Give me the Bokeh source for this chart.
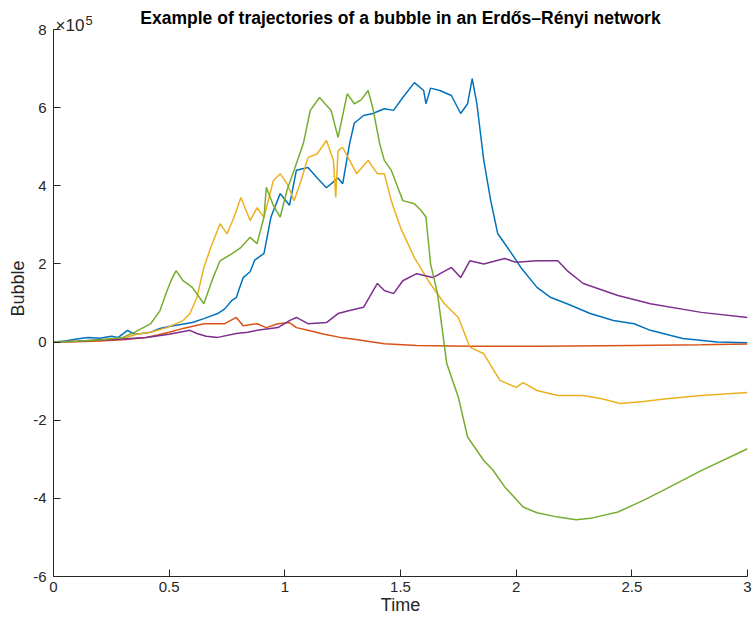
import numpy as np
from bokeh.plotting import figure
from bokeh.models import FixedTicker, Label
from bokeh.embed import file_html
from bokeh.resources import INLINE

# ---- data (bubble values in units of 1e5) ----
x_ticks = [0, 0.5, 1, 1.5, 2, 2.5, 3]
x_tick_labels = ["0", "0.5", "1", "1.5", "2", "2.5", "3"]
y_ticks = [-6, -4, -2, 0, 2, 4, 6, 8]
y_tick_labels = ["-6", "-4", "-2", "0", "2", "4", "6", "8"]

t_blue = [0, 0.05, 0.1, 0.15, 0.2, 0.25, 0.28, 0.32, 0.35, 0.38, 0.42, 0.46, 0.5, 0.55, 0.6, 0.65,
          0.71, 0.74, 0.77, 0.79, 0.82, 0.85, 0.87, 0.91, 0.94, 0.98, 1.02, 1.05, 1.1, 1.14, 1.18,
          1.21, 1.23, 1.25, 1.28, 1.3, 1.34, 1.38, 1.43, 1.47, 1.51, 1.56, 1.6, 1.61, 1.63, 1.67,
          1.72, 1.76, 1.79, 1.81, 1.83, 1.86, 1.89, 1.92, 1.98, 2.02, 2.09, 2.15, 2.22, 2.32, 2.42,
          2.51, 2.58, 2.72, 2.87, 3.0]
v_blue = [0, 0.03, 0.08, 0.12, 0.1, 0.15, 0.12, 0.3, 0.2, 0.22, 0.25, 0.35, 0.4, 0.45, 0.5, 0.6,
          0.73, 0.85, 1.06, 1.14, 1.65, 1.8, 2.1, 2.27, 3.2, 3.8, 3.5, 4.4, 4.47, 4.2, 3.95,
          4.1, 4.2, 4.05, 5.08, 5.6, 5.8, 5.85, 5.97, 5.93, 6.26, 6.64, 6.44, 6.1, 6.5, 6.44,
          6.31, 5.85, 6.1, 6.74, 6.1, 4.65, 3.62, 2.78, 2.27, 1.91, 1.4, 1.14, 0.98, 0.73, 0.55,
          0.47, 0.3, 0.09, 0.0, -0.02]

t_orange = [0, 0.1, 0.2, 0.3, 0.4, 0.45, 0.5, 0.56, 0.65, 0.74, 0.79, 0.82, 0.88, 0.92, 0.97,
            1.02, 1.05, 1.1, 1.17, 1.24, 1.3, 1.43, 1.57, 1.8, 2.1, 2.5, 2.8, 3.0]
v_orange = [0, 0.01, 0.03, 0.06, 0.12, 0.18, 0.25, 0.35, 0.47, 0.47, 0.63, 0.42, 0.47, 0.37, 0.47,
            0.5, 0.37, 0.3, 0.2, 0.12, 0.07, -0.04, -0.09, -0.11, -0.11, -0.09, -0.07, -0.05]

t_yellow = [0, 0.1, 0.2, 0.3, 0.36, 0.42, 0.49, 0.56, 0.59, 0.62, 0.65, 0.68, 0.72, 0.75, 0.78,
            0.81, 0.85, 0.88, 0.91, 0.95, 0.98, 1.01, 1.04, 1.07, 1.1, 1.14, 1.18, 1.21, 1.22,
            1.23, 1.25, 1.28, 1.31, 1.36, 1.4, 1.43, 1.46, 1.5, 1.56, 1.62, 1.69, 1.75, 1.8,
            1.86, 1.93, 2.0, 2.03, 2.09, 2.18, 2.29, 2.37, 2.45, 2.55, 2.65, 2.8, 3.0]
v_yellow = [0, 0.02, 0.05, 0.1, 0.2, 0.25, 0.37, 0.55, 0.73, 1.14, 1.91, 2.42, 3.03, 2.77, 3.19,
            3.7, 3.11, 3.44, 3.19, 4.13, 4.31, 4.05, 3.62, 4.13, 4.72, 4.82, 5.16, 4.65, 3.7,
            4.9, 4.98, 4.65, 4.31, 4.65, 4.31, 4.31, 3.62, 2.93, 2.16, 1.57, 0.98, 0.63, -0.13,
            -0.3, -0.98, -1.16, -1.04, -1.24, -1.37, -1.37, -1.45, -1.57, -1.52, -1.45, -1.37, -1.29]

t_purple = [0, 0.1, 0.2, 0.3, 0.4, 0.5, 0.59, 0.62, 0.66, 0.71, 0.79, 0.84, 0.88, 0.97, 1.02,
            1.05, 1.1, 1.18, 1.23, 1.28, 1.34, 1.4, 1.43, 1.47, 1.51, 1.57, 1.64, 1.72, 1.76,
            1.8, 1.86, 1.95, 2.0, 2.09, 2.18, 2.22, 2.29, 2.44, 2.58, 2.8, 3.0]
v_purple = [0, 0.02, 0.05, 0.08, 0.12, 0.2, 0.3, 0.22, 0.15, 0.12, 0.22, 0.25, 0.3, 0.37, 0.55,
            0.63, 0.47, 0.5, 0.73, 0.81, 0.89, 1.5, 1.32, 1.24, 1.57, 1.75, 1.65, 1.91, 1.65,
            2.08, 2.0, 2.14, 2.04, 2.08, 2.08, 1.83, 1.5, 1.19, 0.98, 0.76, 0.63]

t_green = [0, 0.1, 0.2, 0.3, 0.35, 0.42, 0.46, 0.49, 0.51, 0.53, 0.56, 0.6, 0.65, 0.69, 0.72,
           0.77, 0.81, 0.85, 0.88, 0.91, 0.92, 0.95, 0.98, 1.01, 1.04, 1.08, 1.11, 1.15, 1.2,
           1.23, 1.27, 1.3, 1.33, 1.36, 1.38, 1.41, 1.43, 1.46, 1.51, 1.56, 1.59, 1.61, 1.63,
           1.66, 1.7, 1.75, 1.79, 1.86, 1.9, 1.95, 2.03, 2.09, 2.18, 2.26, 2.33, 2.44, 2.55,
           2.65, 2.8, 3.0]
v_green = [0, 0.02, 0.06, 0.12, 0.25, 0.47, 0.8, 1.3, 1.6, 1.83, 1.57, 1.4, 0.98, 1.65, 2.08,
           2.26, 2.42, 2.68, 2.52, 3.2, 3.96, 3.5, 3.2, 3.9, 4.4, 5.08, 5.93, 6.26, 5.93,
           5.24, 6.36, 6.1, 6.2, 6.44, 6.0, 5.08, 4.65, 4.4, 3.62, 3.54, 3.36, 3.2, 2.0,
           1.24, -0.55, -1.41, -2.43, -3.03, -3.28, -3.7, -4.22, -4.37, -4.48, -4.55, -4.5,
           -4.35, -4.05, -3.75, -3.29, -2.73]

series = [
    (t_blue, v_blue, "#0072BD"),
    (t_orange, v_orange, "#D95319"),
    (t_yellow, v_yellow, "#EDB120"),
    (t_purple, v_purple, "#7E2F8E"),
    (t_green, v_green, "#77AC30"),
]

FONT = "Liberation Sans"
INK = "#262626"

# The frame reaches the top of the canvas so that the title and the exponent
# marker (drawn as labels) are not clipped; the axis itself is bounded to -6..8.
Y_LO, Y_HI, TOP_PAD = -6, 8, 29
FRAME_H = 576
y_top = Y_HI + TOP_PAD * (Y_HI - Y_LO) / (FRAME_H - TOP_PAD)

p = figure(width=754, height=619, output_backend="svg", toolbar_location=None,
           x_range=(0, 3), y_range=(Y_LO, y_top), title=None,
           x_axis_label="Time", y_axis_label="Bubble",
           min_border_left=53, min_border_right=7, min_border_top=0, min_border_bottom=43)
p.outline_line_color = None
p.grid.visible = False
p.background_fill_color = "white"

for t, v, c in series:
    p.line(t, v, line_color=c, line_width=1.5)

for ax, ticks, labels in ((p.xaxis[0], x_ticks, x_tick_labels), (p.yaxis[0], y_ticks, y_tick_labels)):
    ax.ticker = FixedTicker(ticks=ticks)
    ax.major_label_overrides = {k: l for k, l in zip(ticks, labels)}
    ax.major_tick_in = 7
    ax.major_tick_out = 0
    ax.minor_tick_in = 0
    ax.minor_tick_out = 0
    ax.axis_line_color = INK
    ax.major_tick_line_color = INK
    ax.axis_line_width = 1
    ax.major_label_text_font = FONT
    ax.major_label_text_font_size = "15px"
    ax.major_label_text_color = INK
    ax.axis_label_text_font = FONT
    ax.axis_label_text_font_size = "18px"
    ax.axis_label_text_font_style = "normal"
    ax.axis_label_text_color = INK

p.yaxis.bounds = (Y_LO, Y_HI)
p.xaxis.major_label_standoff = 5
p.xaxis.axis_label_standoff = 0
p.yaxis.major_label_standoff = 7
p.yaxis.axis_label_standoff = 2

p.add_layout(Label(x=1.5, y=Y_HI, y_offset=12,
                   text="Example of trajectories of a bubble in an Erdős–Rényi network",
                   text_font=FONT, text_font_size="17.5px", text_font_style="bold",
                   text_color="black", text_align="center", text_baseline="middle"))
p.add_layout(Label(x=0, y=Y_HI, x_offset=2, y_offset=4, text="×10",
                   text_font=FONT, text_font_size="17px", text_color=INK,
                   text_baseline="alphabetic"))
p.add_layout(Label(x=0, y=Y_HI, x_offset=32, y_offset=9, text="5",
                   text_font=FONT, text_font_size="13px", text_color=INK,
                   text_baseline="alphabetic"))

open("out.html", "w").write(file_html(p, INLINE))
